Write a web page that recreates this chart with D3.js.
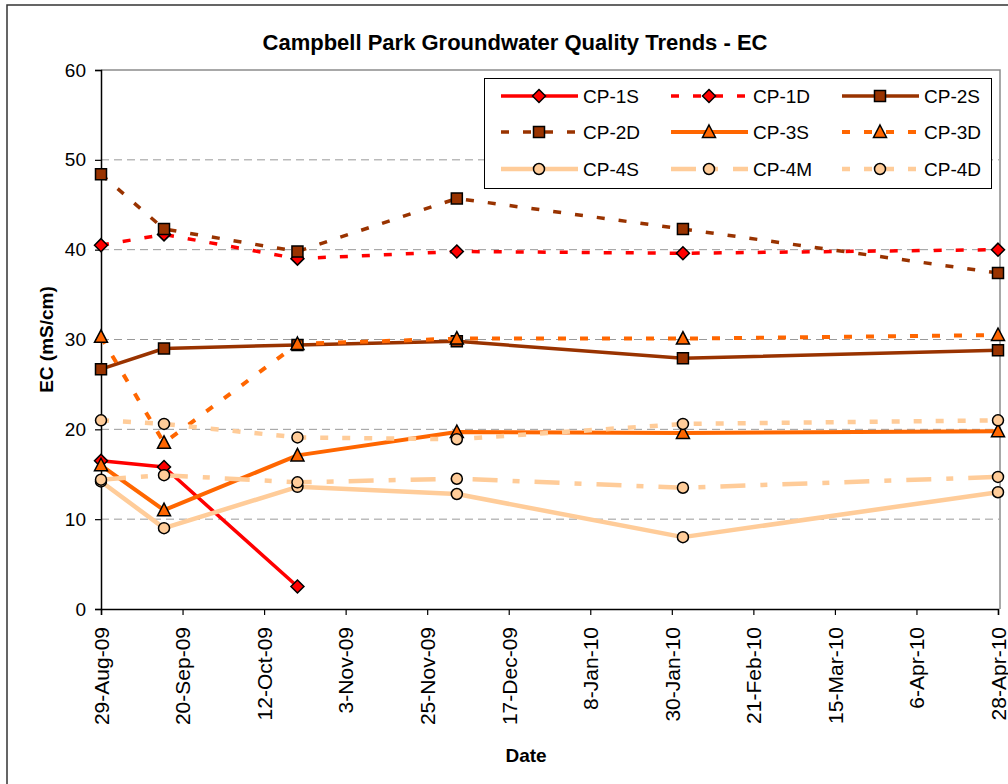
<!DOCTYPE html>
<html>
<head>
<meta charset="utf-8">
<script src="https://cdn.jsdelivr.net/npm/d3@7"></script>
<style>
  body { margin: 0; background: #fff; }
  svg text { font-family: Arial, "Liberation Sans", sans-serif; }
</style>
</head>
<body>
<svg id="chart" width="1008" height="784"></svg>
<script>
// ---- data ----
const sampleDates = ["29-Aug-09", "15-Sep-09", "21-Oct-09", "3-Dec-09", "2-Feb-10", "28-Apr-10"];
const cp1S = [16.5, 15.8, 2.5, null, null, null];
const cp1D = [40.5, 41.7, 39.0, 39.8, 39.6, 40.0];
const cp2S = [26.7, 29.0, 29.4, 29.8, 27.9, 28.8];
const cp2D = [48.4, 42.3, 39.8, 45.7, 42.3, 37.4];
const cp3S = [16.0, 11.0, 17.1, 19.7, 19.6, 19.8];
const cp3D = [30.3, 18.5, 29.5, 30.1, 30.1, 30.5];
const cp4S = [14.2, 9.0, 13.6, 12.8, 8.0, 13.0];
const cp4M = [14.4, 14.9, 14.1, 14.5, 13.5, 14.7];
const cp4D = [21.0, 20.6, 19.1, 18.9, 20.6, 21.0];
const seriesNames = ["CP-1S", "CP-1D", "CP-2S", "CP-2D", "CP-3S", "CP-3D", "CP-4S", "CP-4M", "CP-4D"];
const xTickLabels = ["29-Aug-09", "20-Sep-09", "12-Oct-09", "3-Nov-09", "25-Nov-09", "17-Dec-09",
                     "8-Jan-10", "30-Jan-10", "21-Feb-10", "15-Mar-10", "6-Apr-10", "28-Apr-10"];
const yTicks = [0, 10, 20, 30, 40, 50, 60];
const titleText = "Campbell Park Groundwater Quality Trends - EC";
const xTitle = "Date";
const yTitle = "EC (mS/cm)";

// ---- styles ----
const RED = "#FF0000", BROWN = "#993300", ORANGE = "#FF6600", PEACH = "#FFCC99";
const styles = [
  { color: RED, dash: null, marker: "diamond", w: 3.5 },
  { color: RED, dash: "8,14", marker: "diamond", w: 3.5 },
  { color: BROWN, dash: null, marker: "square", w: 3.5 },
  { color: BROWN, dash: "8,14", marker: "square", w: 3.5 },
  { color: ORANGE, dash: null, marker: "triangle", w: 4 },
  { color: ORANGE, dash: "8,14", marker: "triangle", w: 4 },
  { color: PEACH, dash: null, marker: "circle", w: 4.5 },
  { color: PEACH, dash: "25,15,7,15", marker: "circle", w: 4.5 },
  { color: PEACH, dash: "8,14", marker: "circle", w: 4.5 }
];
const values = [cp1S, cp1D, cp2S, cp2D, cp3S, cp3D, cp4S, cp4M, cp4D];

const parse = d3.timeParse("%d-%b-%y");
const dates = sampleDates.map(parse);
const tickDates = xTickLabels.map(parse);

const svg = d3.select("#chart");
const L = 101, R = 998, T = 70, B = 609;

const x = d3.scaleTime().domain([tickDates[0], tickDates[tickDates.length - 1]]).range([L, R]);
const y = d3.scaleLinear().domain([0, 60]).range([B, T]);

// outer border
svg.append("rect").attr("x", 7).attr("y", 5).attr("width", 1010).attr("height", 790)
  .attr("fill", "none").attr("stroke", "#333").attr("stroke-width", 1.5);

// title
svg.append("text").attr("x", 515).attr("y", 50).attr("text-anchor", "middle")
  .attr("font-size", 22).attr("font-weight", "bold").text(titleText);

// gridlines
svg.append("g").selectAll("line").data(yTicks.filter(v => v > 0 && v < 60)).join("line")
  .attr("x1", L).attr("x2", R + 1).attr("y1", d => y(d)).attr("y2", d => y(d))
  .attr("stroke", "#999").attr("stroke-width", 1).attr("stroke-dasharray", "8,5");

// plot border top/right
svg.append("path").attr("d", `M${L},${T}H${R + 2}V${B}`)
  .attr("fill", "none").attr("stroke", "#8c8c8c").attr("stroke-width", 1.5);

// y axis
const yAxis = d3.axisLeft(y).tickValues(yTicks).tickSize(6).tickPadding(9).tickFormat(d3.format("d"));
const gy = svg.append("g").attr("transform", `translate(${L},0)`).call(yAxis);
gy.select(".domain").attr("stroke", "#000").attr("stroke-width", 1.5);
gy.selectAll(".tick line").attr("stroke", "#000").attr("stroke-width", 1.2);
gy.selectAll(".tick text").attr("font-size", 19).attr("fill", "#000").attr("font-family", "Arial, 'Liberation Sans', sans-serif");

// x axis
const xAxis = d3.axisBottom(x).tickValues(tickDates).tickSize(6)
  .tickFormat((d, i) => xTickLabels[i]);
const gx = svg.append("g").attr("transform", `translate(0,${B})`).call(xAxis);
gx.select(".domain").attr("stroke", "#000").attr("stroke-width", 1.5);
gx.selectAll(".tick line").attr("stroke", "#000").attr("stroke-width", 1.2);
gx.selectAll(".tick text").attr("font-size", 21).attr("fill", "#000")
  .attr("font-family", "Arial, 'Liberation Sans', sans-serif")
  .attr("text-anchor", "end").attr("transform", "rotate(-90)")
  .attr("x", -18).attr("y", 0).attr("dy", "0.35em");

// axis titles
svg.append("text").attr("x", 526).attr("y", 762).attr("text-anchor", "middle")
  .attr("font-size", 19).attr("font-weight", "bold").text(xTitle);
svg.append("text").attr("transform", `translate(53,${(T + B) / 2}) rotate(-90)`)
  .attr("text-anchor", "middle").attr("font-size", 19).attr("font-weight", "bold").text(yTitle);

// marker path generator
function markerPath(type) {
  if (type === "diamond") return "M0,-6.5L6.5,0L0,6.5L-6.5,0Z";
  if (type === "square") return "M-5.5,-5.5H5.5V5.5H-5.5Z";
  if (type === "triangle") return "M0,-7L6.5,5.5H-6.5Z";
  return d3.symbol().type(d3.symbolCircle).size(Math.PI * 5.5 * 5.5)();
}

// series
const line = d3.line().defined(d => d.v != null).x(d => x(d.date)).y(d => y(d.v));
seriesNames.forEach((name, si) => {
  const st = styles[si];
  const pts = values[si].map((v, i) => ({ date: dates[i], v }));
  const g = svg.append("g").attr("class", "series");
  g.append("path").datum(pts).attr("d", line)
    .attr("fill", "none").attr("stroke", st.color).attr("stroke-width", st.w)
    .attr("stroke-dasharray", st.dash).attr("stroke-linejoin", "round");
  g.selectAll("path.m").data(pts.filter(p => p.v != null)).join("path").attr("class", "m")
    .attr("d", markerPath(st.marker))
    .attr("transform", d => `translate(${x(d.date)},${y(d.v)})`)
    .attr("fill", st.color).attr("stroke", "#000").attr("stroke-width", 1.5);
});

// legend
const lg = svg.append("g");
lg.append("rect").attr("x", 484.5).attr("y", 78.5).attr("width", 507).attr("height", 110)
  .attr("fill", "#fff").attr("stroke", "#000").attr("stroke-width", 1);
const colX = [501, 671, 842];
const rowY = [96, 132, 169];
seriesNames.forEach((name, si) => {
  const st = styles[si];
  const cx = colX[si % 3], cy = rowY[Math.floor(si / 3)];
  lg.append("line").attr("x1", cx).attr("x2", cx + 77).attr("y1", cy).attr("y2", cy)
    .attr("stroke", st.color).attr("stroke-width", st.w).attr("stroke-dasharray", st.dash);
  lg.append("path").attr("d", markerPath(st.marker))
    .attr("transform", `translate(${cx + 38},${cy})`)
    .attr("fill", st.color).attr("stroke", "#000").attr("stroke-width", 1.5);
  lg.append("text").attr("x", cx + 82).attr("y", cy).attr("dy", "0.35em")
    .attr("font-size", 19).text(name);
});
</script>
</body>
</html>
